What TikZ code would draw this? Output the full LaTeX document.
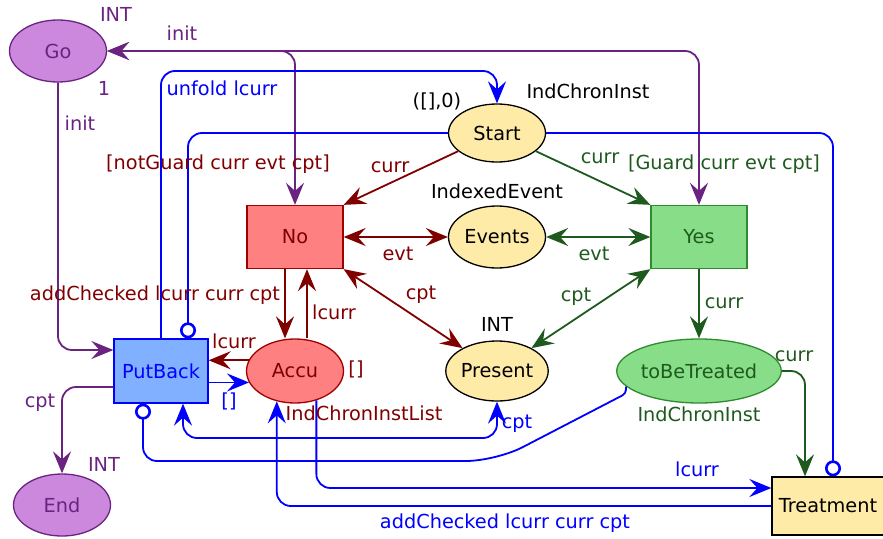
\documentclass[tikz,border=0pt]{standalone}
\usepackage{fontspec}
\setmainfont{DejaVu Sans}
\usetikzlibrary{arrows.meta,shapes.geometric,calc}
\definecolor{pu}{HTML}{6A2380}
\definecolor{pufill}{HTML}{CC88DD}
\definecolor{dr}{HTML}{800000}
\definecolor{drb}{HTML}{A00000}
\definecolor{rfill}{HTML}{FF8080}
\definecolor{dg}{HTML}{1E5A1E}
\definecolor{gfill}{HTML}{88DD88}
\definecolor{gborder}{HTML}{2E8B2E}
\definecolor{bl}{HTML}{0000FF}
\definecolor{bfill}{HTML}{80B0FF}
\definecolor{yfill}{HTML}{FFEBA8}
\begin{document}
\begin{tikzpicture}[x=1pt,y=-1pt,
  font=\fontsize{19.3}{23}\selectfont,
  place/.style={ellipse, draw, line width=1.3pt, minimum width=97, minimum height=62, inner sep=0pt},
  trans/.style={rectangle, draw, line width=1.3pt, minimum width=96, minimum height=63, inner sep=0pt},
  arcbase/.style={line width=1.8pt, rounded corners=14},
  fwd/.style={-{Stealth[length=22pt,width=18pt,inset=8pt]}},
  both/.style={{Stealth[length=22pt,width=18pt,inset=8pt]}-{Stealth[length=22pt,width=18pt,inset=8pt]}},
  parc/.style={arcbase, draw=pu},
  rarc/.style={arcbase, draw=dr},
  garc/.style={arcbase, draw=dg},
  barc/.style={arcbase, draw=bl},
  inhib/.style={-{Circle[open,length=16pt,width=16pt,line width=2.6pt]}},
  lab/.style={inner sep=0pt}
]
\useasboundingbox (0,0) rectangle (883,538);
% nodes
\node[place, fill=pufill, draw=pu, text=pu] (go) at (58,51) {Go};
\node[place, fill=yfill, minimum height=58] (start) at (497,133) {Start};
\node[place, fill=yfill] (events) at (497,237) {Events};
\node[place, fill=yfill, minimum height=60] (present) at (497,371) {Present};
\node[trans, fill=rfill, draw=drb, text=dr] (no) at (295,237) {No};
\node[trans, fill=gfill, draw=gborder, text=dg] (yes) at (699,237) {Yes};
\node[trans, fill=bfill, draw=bl, text=bl, minimum width=94, minimum height=64] (putback) at (161,371) {PutBack};
\node[place, fill=rfill, draw=drb, text=dr, minimum height=64] (accu) at (295,371) {Accu};
\node[place, fill=gfill, draw=gborder, text=dg, minimum width=147, minimum height=64] (tbt) at (699,371) {toBeTreated};
\node[place, fill=pufill, draw=pu, text=pu] (end) at (62,505) {End};
\node[trans, fill=yfill, minimum width=112, minimum height=58] (treat) at (828,506) {Treatment};
% helper coordinates
\coordinate (ytop) at (0,71);
\coordinate (ypres) at (0,438);
\coordinate (yinh) at (496,461);
% purple arcs
\draw[parc,both] (go.east) -| (no.north);
\draw[parc,both] (go.east) -| (yes.north);
\draw[parc,fwd] (go.south) |- ([yshift=21pt]putback.west);
\draw[parc,fwd] ([yshift=-16pt]putback.west) -| (end.north);
% blue arcs top
\draw[barc,fwd] (putback.north) -- (putback.north |- ytop) -| (start.north);
\draw[barc,inhib] (start.west) -| ([xshift=27pt]putback.north);
\draw[barc,inhib] (start.east) -| ([xshift=5pt]treat.north);
% dark red arcs
\draw[rarc,fwd] (start) -- (no.north east);
\draw[rarc,both] (no.east) -- (events.west);
\draw[rarc,fwd] ([xshift=-10pt]no.south) -- ([xshift=-10pt]accu.north);
\draw[rarc,fwd] ([xshift=12pt]accu.north) -- ([xshift=12pt]no.south);
\draw[rarc,both] (no.south east) -- (present);
\draw[rarc,fwd] (accu.167) -- (putback.east |- accu.167);
% green arcs
\draw[garc,fwd] (start) -- (yes.north west);
\draw[garc,both] (events.east) -- (yes.west);
\draw[garc,both] (yes.south west) -- (present);
\draw[garc,fwd] (yes.south) -- (tbt.north);
\draw[garc,fwd] (tbt.east) -| ([xshift=-23pt]treat.north);
% blue arcs bottom
\draw[barc,fwd] (putback.east |- accu.194) -- (accu.194);
\draw[barc,both] (present.south) -- (present.south |- ypres) -| ([xshift=22pt]putback.south);
\draw[barc,inhib,rounded corners=4] (tbt.192) -- ++(0,7) [rounded corners=30] -- (yinh) [rounded corners=14] -| ([xshift=-18pt]putback.south);
\draw[barc,fwd] (accu.306) |- ([yshift=18pt]treat.west);
\draw[barc,fwd] (treat.west) -| (accu.239);
% labels
\node[lab, text=pu] (l1) at (116,14) {INT};
\node[lab, text=pu] (l2) at (182,33) {init};
\node[lab, text=pu] (l3) at (104,88) {1};
\node[lab, text=pu] (l4) at (80,123) {init};
\node[lab, text=bl] (l5) at (222,88) {unfold lcurr};
\node[lab] (l6) at (437,101) {([],0)};
\node[lab] (l7) at (588,91) {IndChronInst};
\node[lab, text=dr] (l8) at (218,164) {[notGuard curr evt cpt]};
\node[lab, text=dr] (l9) at (390,167) {curr};
\node[lab] (l10) at (497,191) {IndexedEvent};
\node[lab, text=dg] (l11) at (600,158) {curr};
\node[lab, text=dg] (l12) at (724,164) {[Guard curr evt cpt]};
\node[lab, text=dr] (l13) at (398,254) {evt};
\node[lab, text=dg] (l14) at (594,254) {evt};
\node[lab, text=dr] (l15) at (155,295) {addChecked lcurr curr cpt};
\node[lab, text=dr] (l16) at (334,312) {lcurr};
\node[lab, text=dr] (l17) at (421,295) {cpt};
\node[lab, text=dg] (l18) at (576,297) {cpt};
\node[lab] (l19) at (497,324) {INT};
\node[lab, text=dg] (l20) at (724,303) {curr};
\node[lab, text=dr] (l21) at (234,341) {lcurr};
\node[lab, text=dr] (l22) at (356,369) {[]};
\node[lab, text=dg] (l23) at (794,356) {curr};
\node[lab, text=bl] (l24) at (229,401) {[]};
\node[lab, text=pu] (l25) at (40,403) {cpt};
\node[lab, text=dr] (l26) at (364,413) {IndChronInstList};
\node[lab, text=bl] (l27) at (517,424) {cpt};
\node[lab, text=dg] (l28) at (699,414) {IndChronInst};
\node[lab, text=pu] (l29) at (104,464) {INT};
\node[lab, text=bl] (l30) at (697,469) {lcurr};
\node[lab, text=bl] (l31) at (505,523) {addChecked lcurr curr cpt};
\end{tikzpicture}
\end{document}
